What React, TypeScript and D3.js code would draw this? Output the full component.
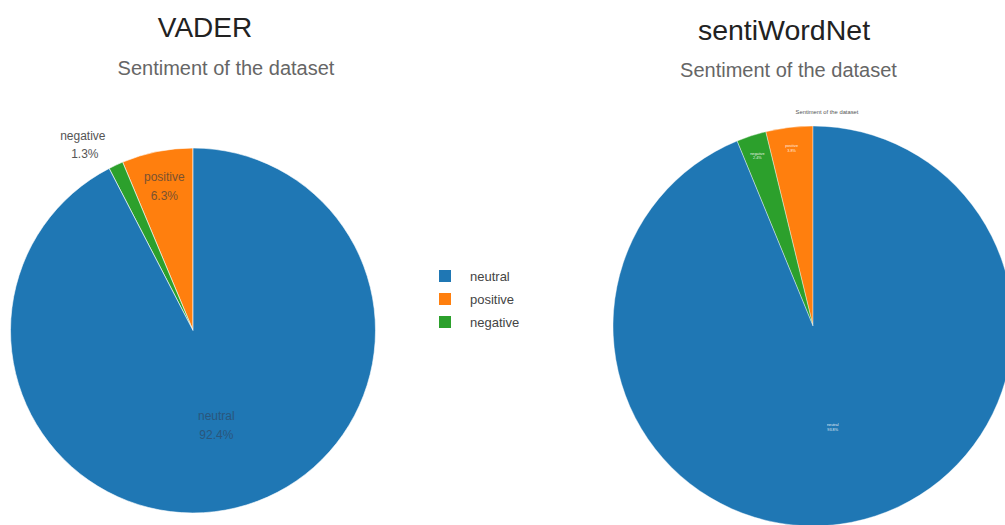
import React from "react";
import * as d3 from "d3";

const categories = ["neutral", "positive", "negative"];
const colors = ["#1f77b4", "#ff7f0e", "#2ca02c"];
const vaderValues = [92.4, 6.3, 1.3];
const swnValues = [93.8, 3.8, 2.4];
// counter-clockwise drawing order from 12 o'clock (indices into categories)
const drawOrder = [1, 2, 0];

const FONT = "'Liberation Sans', Arial, Helvetica, sans-serif";

type Slice = { name: string; value: number; color: string };

function buildSlices(values: number[]): d3.PieArcDatum<Slice>[] {
  const data: Slice[] = drawOrder.map((i) => ({
    name: categories[i],
    value: values[i],
    color: colors[i],
  }));
  return d3
    .pie<Slice>()
    .sort(null)
    .value((d) => d.value)
    .startAngle(0)
    .endAngle(-2 * Math.PI)(data);
}

function polar(angle: number, r: number): [number, number] {
  return [Math.sin(angle) * r, -Math.cos(angle) * r];
}

function LeftPie() {
  const cx = 193, cy = 330.5, r = 182.5;
  const slices = buildSlices(vaderValues);
  const arc = d3.arc<d3.PieArcDatum<Slice>>().innerRadius(0).outerRadius(r);
  return (
    <g transform={`translate(${cx},${cy})`}>
      {slices.map((s) => (
        <path key={s.data.name} d={arc(s) || ""} fill={s.data.color} stroke="#fff" strokeWidth={0.6} />
      ))}
      {slices.map((s) => {
        const mid = (s.startAngle + s.endAngle) / 2;
        const pct = s.data.value.toFixed(1) + "%";
        if (s.data.name === "negative") {
          const [x, y] = polar(mid, r + 22);
          return (
            <text key={s.data.name} x={x - 1} y={y - 5} fontSize={12} fill="#555" textAnchor="end" fontFamily={FONT}>
              <tspan x={x - 1}>{s.data.name}</tspan>
              <tspan x={x - 8} dy={18}>{pct}</tspan>
            </text>
          );
        }
        const f = s.data.name === "positive" ? 0.8 : 0.54;
        const [x, y] = polar(mid, r * f);
        const fill = s.data.name === "positive" ? "#7a5230" : "#2a567c";
        return (
          <text key={s.data.name} x={x} y={y - 6} fontSize={12} fill={fill} textAnchor="middle" fontFamily={FONT}>
            <tspan x={x}>{s.data.name}</tspan>
            <tspan x={x} dy={19}>{pct}</tspan>
          </text>
        );
      })}
    </g>
  );
}

function RightPie() {
  const cx = 813, cy = 326, r = 200;
  const slices = buildSlices(swnValues);
  const arc = d3.arc<d3.PieArcDatum<Slice>>().innerRadius(0).outerRadius(r);
  return (
    <g transform={`translate(${cx},${cy})`}>
      {slices.map((s) => (
        <path key={s.data.name} d={arc(s) || ""} fill={s.data.color} stroke="#fff" strokeWidth={0.4} />
      ))}
      <text x={14} y={-212} fontSize={5.8} fill="#555" textAnchor="middle" fontFamily={FONT}>
        Sentiment of the dataset
      </text>
      {slices.map((s) => {
        const mid = (s.startAngle + s.endAngle) / 2;
        const f = s.data.name === "neutral" ? 0.51 : 0.9;
        const [x, y] = polar(mid, r * f);
        return (
          <text key={s.data.name} x={x} y={y} fontSize={3.8} fill="#fff" fillOpacity={0.9} textAnchor="middle" fontFamily={FONT}>
            <tspan x={x}>{s.data.name}</tspan>
            <tspan x={x} dy={4.5}>{s.data.value.toFixed(1) + "%"}</tspan>
          </text>
        );
      })}
    </g>
  );
}

function Legend() {
  const x = 439, y0 = 270, step = 23;
  return (
    <g>
      {categories.map((c, i) => (
        <g key={c} transform={`translate(${x},${y0 + i * step})`}>
          <rect x={0} y={0} width={12} height={12} fill={colors[i]} />
          <text x={31} y={11} fontSize={13} fill="#444" fontFamily={FONT}>
            {c}
          </text>
        </g>
      ))}
    </g>
  );
}

export default function App() {
  return (
    <svg
      width={1005}
      height={525}
      viewBox="0 0 1005 525"
      style={{ position: "absolute", left: 0, top: 0, display: "block", background: "#fff" }}
    >
      <rect x={0} y={0} width={1005} height={525} fill="#fff" />
      <text x={205} y={37} fontSize={28} fill="#222" textAnchor="middle" fontFamily={FONT}>
        VADER
      </text>
      <text x={226} y={75} fontSize={20} fill="#666" textAnchor="middle" fontFamily={FONT}>
        Sentiment of the dataset
      </text>
      <text x={784} y={40} fontSize={28.5} fill="#222" textAnchor="middle" fontFamily={FONT}>
        sentiWordNet
      </text>
      <text x={788.5} y={77} fontSize={20} fill="#666" textAnchor="middle" fontFamily={FONT}>
        Sentiment of the dataset
      </text>
      <LeftPie />
      <Legend />
      <RightPie />
    </svg>
  );
}
